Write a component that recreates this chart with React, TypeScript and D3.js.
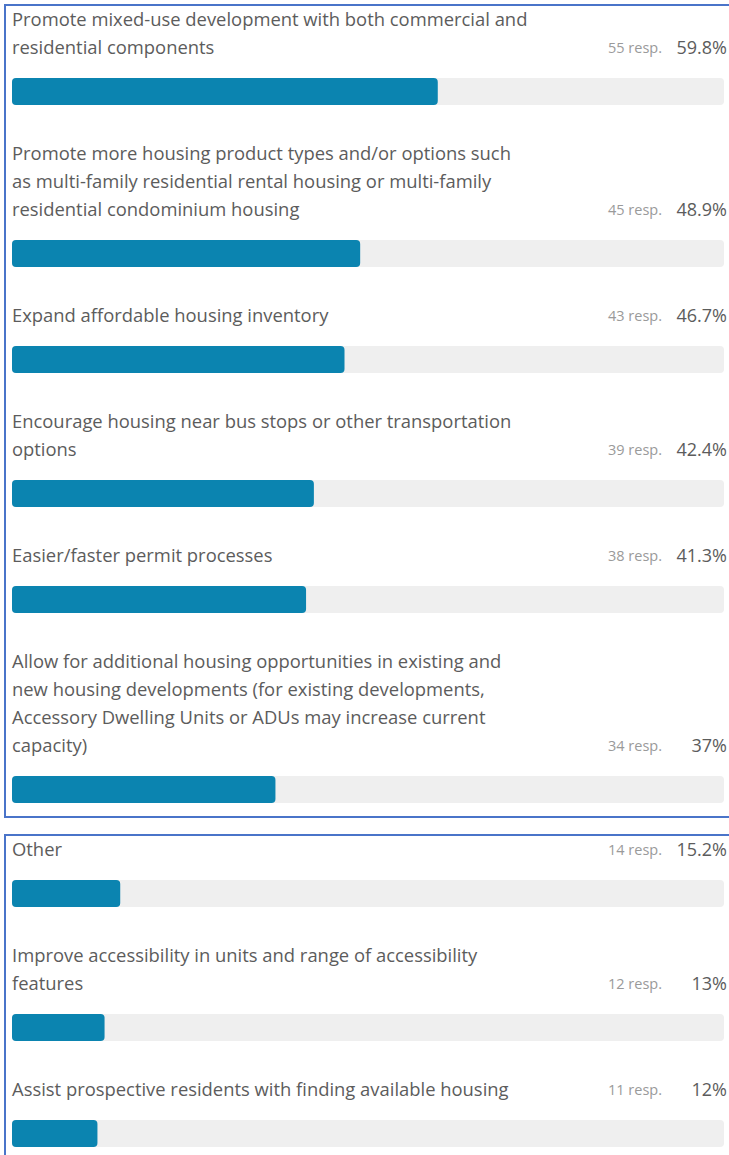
import React from "react";
import * as d3 from "d3";

// ---- data ----
const labelsPanel1: string[][] = [
  ["Promote mixed-use development with both commercial and", "residential components"],
  [
    "Promote more housing product types and/or options such",
    "as multi-family residential rental housing or multi-family",
    "residential condominium housing",
  ],
  ["Expand affordable housing inventory"],
  ["Encourage housing near bus stops or other transportation", "options"],
  ["Easier/faster permit processes"],
  [
    "Allow for additional housing opportunities in existing and",
    "new housing developments (for existing developments,",
    "Accessory Dwelling Units or ADUs may increase current",
    "capacity)",
  ],
];
const respPanel1: number[] = [55, 45, 43, 39, 38, 34];
const pctPanel1: number[] = [59.8, 48.9, 46.7, 42.4, 41.3, 37];

const labelsPanel2: string[][] = [
  ["Other"],
  ["Improve accessibility in units and range of accessibility", "features"],
  ["Assist prospective residents with finding available housing"],
];
const respPanel2: number[] = [14, 12, 11];
const pctPanel2: number[] = [15.2, 13, 12];

// ---- layout ----
const W = 729;
const H = 1155;
const LINE = 28;
const BAR_H = 27;
const TEXT_TO_BAR = 30;
const BAR_TO_TEXT = 49;
const FONT = "'Open Sans', 'Noto Sans', sans-serif";
const BLUE = "#0b84b0";
const TRACK = "#efefef";
const BORDER = "#4a74c9";

const x = d3.scaleLinear().domain([0, 100]).range([12, 724]);

type Item = { lines: string[]; resp: number; pct: number };

function layout(items: Item[], firstY: number) {
  let y = firstY;
  return items.map((it) => {
    const lineYs = it.lines.map((_, i) => y + i * LINE);
    const last = lineYs[lineYs.length - 1];
    const barTop = last + TEXT_TO_BAR;
    y = barTop + BAR_H + BAR_TO_TEXT;
    return { ...it, lineYs, last, barTop };
  });
}

const fmtPct = (v: number) => `${d3.format("~r")(v)}%`;

function Panel({ items, top, bottom }: { items: ReturnType<typeof layout>; top: number; bottom: number }) {
  return (
    <g>
      <rect x={5} y={top} width={W + 10} height={bottom - top} fill="#fff" stroke={BORDER} strokeWidth={2} />
      {items.map((it, i) => (
        <g key={i}>
          {it.lines.map((l, j) => (
            <text key={j} x={12} y={it.lineYs[j]} dy="0.35em" fontFamily={FONT} fontSize={18.4} fill="#5c5c5c">
              {l}
            </text>
          ))}
          <text x={662} y={it.last} dy="0.35em" textAnchor="end" fontFamily={FONT} fontSize={14.5} fill="#9a9a9a">
            {`${it.resp} resp.`}
          </text>
          <text x={727} y={it.last} dy="0.35em" textAnchor="end" fontFamily={FONT} fontSize={18} fill="#5c5c5c">
            {fmtPct(it.pct)}
          </text>
          <rect x={x(0)} y={it.barTop} width={x(100) - x(0)} height={BAR_H} rx={4} fill={TRACK} />
          <rect x={x(0)} y={it.barTop} width={x(it.pct) - x(0)} height={BAR_H} rx={4} fill={BLUE} />
        </g>
      ))}
    </g>
  );
}

export default function App() {
  const items1 = layout(
    labelsPanel1.map((lines, i) => ({ lines, resp: respPanel1[i], pct: pctPanel1[i] })),
    20
  );
  const items2 = layout(
    labelsPanel2.map((lines, i) => ({ lines, resp: respPanel2[i], pct: pctPanel2[i] })),
    850
  );
  const p1Bottom = items1[items1.length - 1].barTop + BAR_H + 14;
  return (
    <svg
      width={W}
      height={H}
      style={{ position: "absolute", left: 0, top: 0, background: "#fff" }}
    >
      <Panel items={items1} top={5} bottom={p1Bottom} />
      <Panel items={items2} top={835} bottom={H + 20} />
    </svg>
  );
}
